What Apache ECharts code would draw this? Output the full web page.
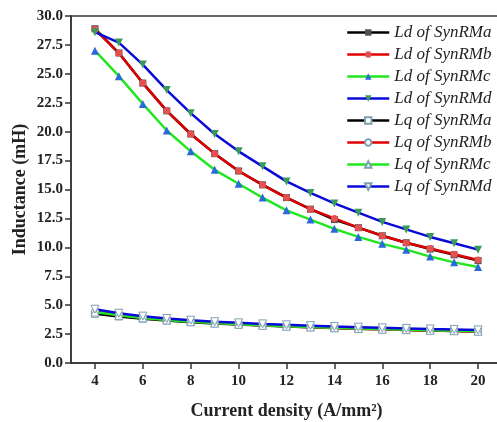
<!DOCTYPE html>
<html lang="en">
  <head>
    <meta charset="UTF-8" />
    <title>Inductance vs current density</title>
    <script src="https://cdn.jsdelivr.net/npm/echarts@6/dist/echarts.min.js"></script>
  </head>
  <style type="text/css">
    html, body { margin: 0; padding: 0; background: #fff; }
    #main { width: 497px; height: 422px; }
  </style>
  <body>
    <div id="main"></div>
    <script>
      // current density, A/mm2
      var current = [4, 5, 6, 7, 8, 9, 10, 11, 12, 13, 14, 15, 16, 17, 18, 19, 20];

      // d-axis inductance, mH
      var ldA = [28.9, 26.8, 24.2, 21.8, 19.8, 18.1, 16.6, 15.4, 14.3, 13.3, 12.4, 11.7, 11.0, 10.4, 9.85, 9.35, 8.85];
      var ldB = [28.85, 26.8, 24.2, 21.8, 19.8, 18.1, 16.6, 15.4, 14.3, 13.3, 12.5, 11.7, 11.0, 10.4, 9.9, 9.4, 8.9];
      var ldC = [27.0, 24.8, 22.4, 20.1, 18.3, 16.7, 15.5, 14.3, 13.2, 12.4, 11.6, 10.9, 10.3, 9.8, 9.2, 8.7, 8.3];
      var ldD = [28.6, 27.7, 25.8, 23.6, 21.6, 19.8, 18.3, 17.0, 15.7, 14.7, 13.8, 13.0, 12.2, 11.55, 10.9, 10.35, 9.8];

      // q-axis inductance, mH
      var lqA = [4.25, 4.02, 3.83, 3.67, 3.53, 3.42, 3.32, 3.24, 3.16, 3.09, 3.02, 2.96, 2.91, 2.86, 2.81, 2.77, 2.73];
      var lqB = [4.45, 4.15, 3.92, 3.73, 3.58, 3.45, 3.35, 3.26, 3.18, 3.1, 3.03, 2.97, 2.91, 2.86, 2.81, 2.77, 2.73];
      var lqC = [4.4, 4.12, 3.9, 3.72, 3.57, 3.45, 3.35, 3.26, 3.18, 3.11, 3.04, 2.98, 2.93, 2.88, 2.83, 2.79, 2.75];
      var lqD = [4.65, 4.3, 4.05, 3.85, 3.7, 3.57, 3.47, 3.38, 3.3, 3.23, 3.16, 3.1, 3.04, 2.99, 2.94, 2.9, 2.86];

      var yTicks = ["0.0", "2.5", "5.0", "7.5", "10.0", "12.5", "15.0", "17.5", "20.0", "22.5", "25.0", "27.5", "30.0"];
      var names = ["Ld of SynRMa", "Ld of SynRMb", "Ld of SynRMc", "Ld of SynRMd",
                   "Lq of SynRMa", "Lq of SynRMb", "Lq of SynRMc", "Lq of SynRMd"];

      var serif = "Liberation Serif";

      function pairs(vals) {
        return vals.map(function (v, i) { return [current[i], v]; });
      }

      // one line series; marker colour differs from line colour like the original
      function mk(name, vals, lineColor, symbol, rot, fill, border) {
        return {
          name: name,
          type: "line",
          data: pairs(vals),
          symbol: symbol,
          symbolRotate: rot,
          symbolSize: symbol == "triangle" ? 8 : 7,
          lineStyle: { color: lineColor, width: 2.5 },
          itemStyle: { color: fill, borderColor: border, borderWidth: border ? 1 : 0 },
          color: lineColor,
          animation: false
        };
      }

      var myChart = echarts.init(document.getElementById("main"));
      var option = {
        backgroundColor: "#fff",
        grid: {
          left: 71, top: 16, bottom: 59, right: -5,
          outerBoundsMode: "none",
          show: true, borderColor: "#333", borderWidth: 1.5
        },
        legend: {
          orient: "vertical",
          left: 341, top: 19,
          itemWidth: 42, itemHeight: 8, itemGap: 5,
          data: names,
          lineStyle: { width: 2.5 },
          textStyle: { fontFamily: serif, fontStyle: "italic", fontSize: 17, color: "#222" }
        },
        xAxis: {
          type: "value",
          min: 3, max: 21, interval: 1,
          name: "Current density (A/mm²)",
          nameLocation: "middle", nameGap: 39,
          nameTextStyle: { fontFamily: serif, fontWeight: "bold", fontSize: 18, color: "#222" },
          axisLine: { lineStyle: { color: "#333", width: 1.5 } },
          axisTick: {
            length: 6, lineStyle: { color: "#333", width: 1.5 },
            customValues: current.filter(function (v) { return v % 2 == 0; })
          },
          axisLabel: {
            fontFamily: serif, fontWeight: "bold", fontSize: 15, color: "#222", margin: 11,
            customValues: current.filter(function (v) { return v % 2 == 0; })
          },
          splitLine: { show: false }
        },
        yAxis: {
          type: "value",
          min: 0, max: 30, interval: 2.5,
          name: "Inductance (mH)",
          nameLocation: "middle", nameGap: 42,
          nameMoveOverlap: false,
          nameTextStyle: { fontFamily: serif, fontWeight: "bold", fontSize: 18, color: "#222" },
          axisLine: { show: true, lineStyle: { color: "#333", width: 1.5 } },
          axisTick: { show: true, length: 6, lineStyle: { color: "#333", width: 1.5 } },
          axisLabel: {
            fontFamily: serif, fontWeight: "bold", fontSize: 15, color: "#222", margin: 8,
            formatter: function (v) { return yTicks[Math.round(v / 2.5)]; }
          },
          splitLine: { show: false }
        },
        series: [
          mk(names[0], ldA, "#000000", "rect", 0, "#505050"),
          mk(names[1], ldB, "#e00000", "circle", 0, "#e85050"),
          mk(names[2], ldC, "#22e622", "triangle", 0, "#2a6ad8"),
          mk(names[3], ldD, "#0a0ad8", "triangle", 180, "#3a9a5a"),
          mk(names[4], lqA, "#000000", "rect", 0, "#ffffff", "#7fa0b0"),
          mk(names[5], lqB, "#e00000", "circle", 0, "#ffffff", "#7fa0b0"),
          mk(names[6], lqC, "#22e622", "triangle", 0, "#ffffff", "#7fa0b0"),
          mk(names[7], lqD, "#0a0ad8", "triangle", 180, "#ffffff", "#7fa0b0")
        ]
      };
      myChart.setOption(option);
    </script>
  </body>
</html>
